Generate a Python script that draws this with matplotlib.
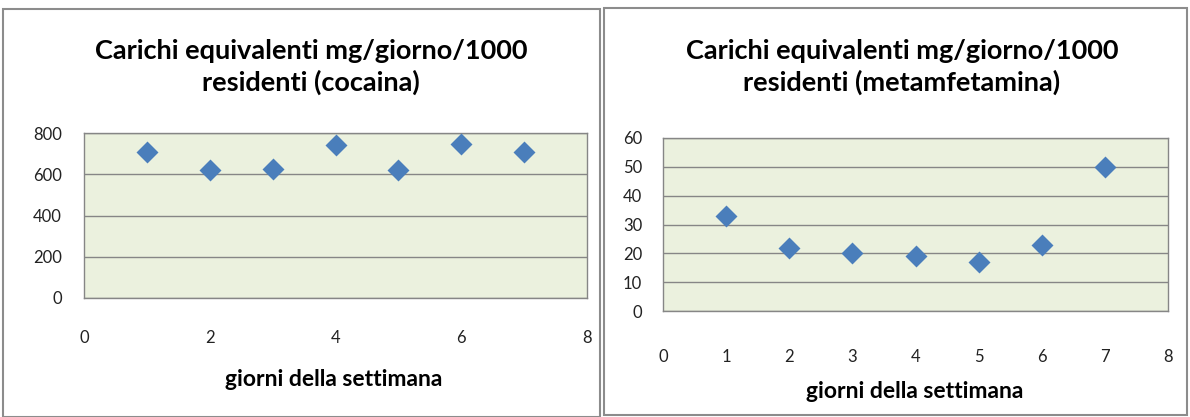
import matplotlib.pyplot as plt
from matplotlib.patches import Rectangle

# dati
giorni = [1, 2, 3, 4, 5, 6, 7]
cocaina = [708, 621, 626, 742, 620, 747, 708]
metamfetamina = [33, 22, 20, 19, 17, 23, 50]

titolo_coca = "Carichi equivalenti mg/giorno/1000\nresidenti (cocaina)"
titolo_meta = "Carichi equivalenti mg/giorno/1000\nresidenti (metamfetamina)"
etichetta_x = "giorni della settimana"

W, H = 1190, 417
BLU = '#4A7EBB'
SFONDO = '#EBF1DE'
GRIGIO = '#868686'
FONT = 'Lato'


def px_axes(fig, x0, y0, x1, y1):
    # coordinate in pixel (origine in alto a sinistra)
    return fig.add_axes([x0 / W, (H - y1) / H, (x1 - x0) / W, (y1 - y0) / H])


def disegna(ax, y, yticks, xticks, xpad, ypad):
    ax.set_facecolor(SFONDO)
    ax.scatter(giorni, y, marker='D', s=125, color=BLU, zorder=3, linewidths=0)
    ax.set_xlim(0, 8)
    ax.set_ylim(yticks[0], yticks[-1])
    ax.set_xticks(xticks)
    ax.set_yticks(yticks)
    ax.grid(axis='y', color=GRIGIO, linewidth=1)
    ax.set_axisbelow(True)
    for s in ax.spines.values():
        s.set_color(GRIGIO)
        s.set_linewidth(1)
    ax.tick_params(axis='both', length=0, labelsize=12, colors='#222222')
    ax.tick_params(axis='x', pad=xpad)
    ax.tick_params(axis='y', pad=ypad)
    for t in ax.get_xticklabels() + ax.get_yticklabels():
        t.set_fontfamily(FONT)


fig = plt.figure(figsize=(W / 100, H / 100), dpi=100)

# cornici dei due pannelli
fig.patches.append(Rectangle((3 / W, 0), 597 / W, (H - 9) / H, transform=fig.transFigure,
                             fill=False, edgecolor='#8C8C8C', linewidth=1.5))
fig.patches.append(Rectangle((604 / W, 2 / H), 583 / W, (H - 10) / H, transform=fig.transFigure,
                             fill=False, edgecolor='#8C8C8C', linewidth=1.5))

ax1 = px_axes(fig, 84, 133, 587, 298)
disegna(ax1, cocaina, [0, 200, 400, 600, 800], [0, 2, 4, 6, 8], 23, 16)

ax2 = px_axes(fig, 663, 138, 1168, 311)
disegna(ax2, metamfetamina, [0, 10, 20, 30, 40, 50, 60], [0, 1, 2, 3, 4, 5, 6, 7, 8], 27, 15)

fig.text(311 / W, 1 - 67 / H, titolo_coca, ha='center', va='center', fontsize=19.5,
         fontfamily=FONT, fontweight='bold', linespacing=1.3)
fig.text(902 / W, 1 - 67 / H, titolo_meta, ha='center', va='center', fontsize=19.5,
         fontfamily=FONT, fontweight='bold', linespacing=1.3)
fig.text(334 / W, 1 - 380 / H, etichetta_x, ha='center', va='center', fontsize=16.5,
         fontfamily=FONT, fontweight='bold')
fig.text(915 / W, 1 - 392 / H, etichetta_x, ha='center', va='center', fontsize=16.5,
         fontfamily=FONT, fontweight='bold')

fig.savefig('out.png', dpi=100)
